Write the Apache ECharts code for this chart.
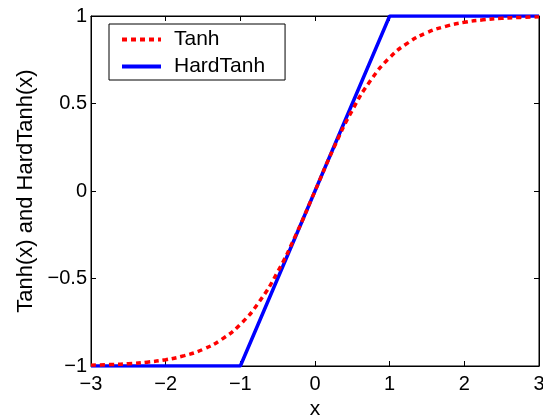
<!DOCTYPE html>
<html style="height: 100%">
<head>
<meta charset="utf-8">
<script src="https://cdn.jsdelivr.net/npm/echarts@6/dist/echarts.min.js"></script>
</head>
<body style="height: 100%; margin: 0; background: #fff">
<div id="container" style="width: 543px; height: 417px"></div>
<script>
// values
var tanhX = [-3, -2.75, -2.5, -2.25, -2, -1.75, -1.5, -1.25, -1, -0.75, -0.5, -0.25, 0,
             0.25, 0.5, 0.75, 1, 1.25, 1.5, 1.75, 2, 2.25, 2.5, 2.75, 3];
var tanhY = [-0.995, -0.992, -0.987, -0.978, -0.964, -0.941, -0.905, -0.848, -0.762, -0.635, -0.462, -0.245, 0,
             0.245, 0.462, 0.635, 0.762, 0.848, 0.905, 0.941, 0.964, 0.978, 0.987, 0.992, 0.995];
var hardX = [-3, -1, 1, 3];
var hardY = [-1, -1, 1, 1];

function zip(a, b) {
    return a.map(function (v, i) { return [v, b[i]]; });
}
function fmt(v) {
    return String(v).replace('-', '\u2212');
}

var font = 'Liberation Sans, Arial, sans-serif';
var myChart = echarts.init(document.getElementById('container'));

var tickStyle = { inside: true, length: 5, lineStyle: { color: '#000' } };
var lineBlack = { show: true, onZero: false, lineStyle: { color: '#000' } };

var option = {
    backgroundColor: '#fff',
    animation: false,
    grid: {
        left: 91, right: 4, top: 16, bottom: 51,
        outerBoundsMode: 'none', containLabel: false,
        show: true, borderColor: '#000', borderWidth: 1
    },
    legend: {
        left: 109, top: 24,
        orient: 'vertical',
        padding: [5, 20, 3, 11],
        itemGap: 6,
        itemWidth: 39, itemHeight: 20,
        borderColor: '#000', borderWidth: 1, borderRadius: 0,
        backgroundColor: '#fff',
        itemStyle: { opacity: 0 },
        lineStyle: { width: 4 },
        textStyle: { fontFamily: font, fontSize: 21, color: '#000', padding: [0, 0, 0, 8] },
        data: ['Tanh', 'HardTanh']
    },
    xAxis: [{
        type: 'value', min: -3, max: 3, interval: 1,
        name: 'x', nameLocation: 'middle', nameGap: 31,
        nameTextStyle: { fontFamily: font, fontSize: 21, color: '#000' },
        axisLine: lineBlack, axisTick: tickStyle,
        axisLabel: { fontFamily: font, fontSize: 20, color: '#000', margin: 8, formatter: fmt },
        splitLine: { show: false }
    }, {
        type: 'value', min: -3, max: 3, interval: 1, position: 'top',
        axisLine: lineBlack, axisTick: tickStyle,
        axisLabel: { show: false },
        splitLine: { show: false }
    }],
    yAxis: [{
        type: 'value', min: -1, max: 1, interval: 0.5,
        name: 'Tanh(x) and HardTanh(x)', nameLocation: 'middle', nameGap: 54,
        nameTextStyle: { fontFamily: font, fontSize: 22, color: '#000' },
        axisLine: lineBlack, axisTick: tickStyle,
        axisLabel: { fontFamily: font, fontSize: 20, color: '#000', margin: 4, formatter: fmt },
        splitLine: { show: false }
    }, {
        type: 'value', min: -1, max: 1, interval: 0.5, position: 'right',
        axisLine: lineBlack, axisTick: tickStyle,
        axisLabel: { show: false },
        splitLine: { show: false }
    }],
    series: [{
        name: 'Tanh', type: 'line', smooth: true, symbol: 'none',
        data: zip(tanhX, tanhY),
        itemStyle: { color: '#ff0000' },
        lineStyle: { color: '#ff0000', width: 3.5, type: [5, 4] },
        z: 3
    }, {
        name: 'HardTanh', type: 'line', symbol: 'none',
        data: zip(hardX, hardY),
        itemStyle: { color: '#0000ff' },
        lineStyle: { color: '#0000ff', width: 3.5 },
        z: 2
    }]
};
myChart.setOption(option);
</script>
</body>
</html>
